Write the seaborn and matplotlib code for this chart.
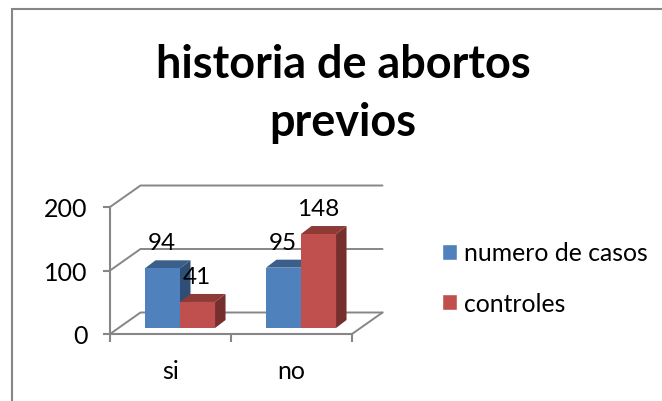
import matplotlib
matplotlib.use("Agg")
import matplotlib.pyplot as plt
from matplotlib.patches import Polygon, Rectangle
import pandas as pd
import seaborn as sns

categories = ["si", "no"]
series_names = ["numero de casos", "controles"]
numero_de_casos = [94, 95]
controles = [41, 148]
y_ticks = [0, 100, 200]
title = "historia de abortos\nprevios"

W, H = 662, 402
GRAY = "#868686"
FONT = "Lato"
plt.rcParams["font.family"] = [FONT, "DejaVu Sans"]
sns.set_theme(style="white")
plt.rcParams["font.family"] = [FONT, "DejaVu Sans"]

df = pd.DataFrame({
    "cat": categories * 2,
    "serie": [series_names[0]] * 2 + [series_names[1]] * 2,
    "valor": numero_de_casos + controles,
})


def axes_px(fig, x0, x1, y_top, y_bot):
    return fig.add_axes([x0 / W, 1 - y_bot / H, (x1 - x0) / W, (y_bot - y_top) / H])


fig = plt.figure(figsize=(W / 100, H / 100), dpi=100, facecolor="white")

# outer chart border
fig.add_artist(Rectangle((11.5 / W, -0.02), 0.99, 1 - 9.5 / H + 0.02, transform=fig.transFigure,
                         fill=False, ec=GRAY, lw=1.5))

# front plane axes
ax = axes_px(fig, 110, 352, 208, 335)
ax.set_xlim(-0.5, 1.5)
ax.set_ylim(0, 200)
ax.patch.set_alpha(0)
for s in ("top", "right"):
    ax.spines[s].set_visible(False)
for s in ("left", "bottom"):
    ax.spines[s].set_color(GRAY)
    ax.spines[s].set_linewidth(1.5)
ax.set_yticks(y_ticks)
ax.set_xticks([-0.5, 0.5, 1.5])
ax.set_xticklabels([])
ax.set_xticks([0, 1], minor=True)
ax.set_xticklabels(categories, minor=True)
ax.tick_params(axis="y", which="major", left=True, length=5, width=1.5, color=GRAY, pad=11,
               labelsize=18, labelcolor="black")
ax.tick_params(axis="x", which="major", bottom=True, length=5.5, width=1.5, color=GRAY)
ax.tick_params(axis="x", which="minor", bottom=False, length=0, pad=18, labelsize=18, labelcolor="black")

# 3D wall and floor (px offsets converted to data units)
px_x = 2 / (352 - 110)
px_y = 200 / (335 - 208)
back_dx, back_dy = 30.5 * px_x, 21.5 * px_y
for v in y_ticks:
    ax.plot([-0.5, -0.5 + back_dx, 1.5 + back_dx], [v, v + back_dy, v + back_dy],
            color=GRAY, lw=1.4, clip_on=False, zorder=0.5, solid_joinstyle="miter")
ax.plot([1.5, 1.5 + back_dx], [0, back_dy], color=GRAY, lw=1.4, clip_on=False, zorder=0.5)

# bars axes, shifted into the floor's depth
bx = axes_px(fig, 119.5, 361.5, 202, 329)
colors = {series_names[0]: "#4F81BD", series_names[1]: "#C0504D"}
sns.barplot(data=df, x="cat", y="valor", hue="serie", order=categories, hue_order=series_names,
            palette=colors, width=0.579, gap=0, saturation=1, ax=bx, legend=True)
bx.set_xlim(-0.5, 1.5)
bx.set_ylim(0, 200)
bx.axis("off")

depth_dx, depth_dy = 10.5 * px_x, 8 * px_y
shades = [("#3A5F8B", "#2F4E75"), ("#8E3B38", "#772F2D")]
for i, cont in enumerate(bx.containers):
    base_z = 1 + i * 2
    for bar in cont:
        x0, w, h = bar.get_x(), bar.get_width(), bar.get_height()
        x1 = x0 + w
        bar.set_zorder(base_z + 1)
        bar.set_edgecolor("none")
        top = [(x0, h), (x1, h), (x1 + depth_dx, h + depth_dy), (x0 + depth_dx, h + depth_dy)]
        side = [(x1, 0), (x1 + depth_dx, depth_dy), (x1 + depth_dx, h + depth_dy), (x1, h)]
        bx.add_patch(Polygon(top, fc=shades[i][0], ec="none", zorder=base_z, clip_on=False))
        bx.add_patch(Polygon(side, fc=shades[i][1], ec="none", zorder=base_z, clip_on=False))
        bx.annotate(f"{h:g}", (x0 + w / 2, h), xytext=(-0.5, 18.3), textcoords="offset points",
                    ha="center", va="center", fontsize=17.5, color="black", zorder=10,
                    annotation_clip=False)

# legend
handles, labels = bx.get_legend_handles_labels()
bx.get_legend().remove()
fig.legend(handles, labels, loc="center left", bbox_to_anchor=(442 / W, 1 - 279 / H), frameon=False,
           fontsize=17.8, borderaxespad=0, borderpad=0, handlelength=0.6, handleheight=0.6,
           handletextpad=0.28, labelspacing=1.1, labelcolor="black")

fig.text(343 / W, 1 - 94 / H, title, ha="center", va="center", fontsize=32.4, fontweight="bold",
         color="black", linespacing=1.47)

fig.savefig("out.png", dpi=100, facecolor="white")
